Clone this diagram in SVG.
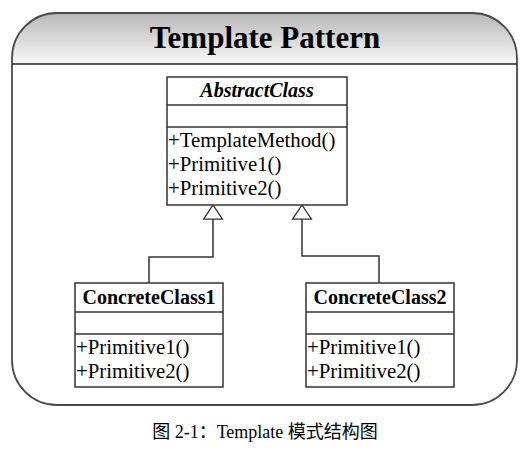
<svg xmlns="http://www.w3.org/2000/svg" width="532" height="452" viewBox="0 0 532 452">
<defs>
<linearGradient id="hdr" x1="0" y1="0" x2="0" y2="1">
<stop offset="0" stop-color="#b8b8b8"/>
<stop offset="1" stop-color="#f7f7f7"/>
</linearGradient>
<marker id="inh" markerUnits="userSpaceOnUse" markerWidth="16" markerHeight="22" viewBox="-1 -1 17 22" refX="15" refY="10" orient="auto">
<path d="M0,0 L15,10 L0,20 Z" fill="#fff" stroke="#333" stroke-width="1.4"/>
</marker>
<style>
.box{fill:#fff;stroke:#333;stroke-width:1.5}
.div{stroke:#333;stroke-width:1.5}
.nm{font-family:"Liberation Serif",serif;font-size:20px;font-weight:bold;fill:#000;text-anchor:middle}
.it{font-style:italic}
.op{font-family:"Liberation Serif",serif;font-size:20.8px;fill:#000}
.conn{fill:none;stroke:#333;stroke-width:1.5}
</style>
</defs>
<rect width="532" height="452" fill="#fff"/>
<g id="frame">
<path d="M12,64 V58 A45,45 0 0 1 57,13 H472 A45,45 0 0 1 517,58 V64 Z" fill="url(#hdr)"/>
<rect x="12" y="13" width="505" height="392" rx="45" ry="45" fill="none" stroke="#4a4a4a" stroke-width="1.8"/>
<line x1="12" y1="64" x2="517" y2="64" stroke="#222" stroke-width="1.5"/>
<text x="265" y="48" font-family="Liberation Serif, serif" font-size="31" font-weight="bold" text-anchor="middle" fill="#000">Template Pattern</text>
</g>
<g id="connectors">
<path class="conn" d="M149,283 V257 H213 V205" marker-end="url(#inh)"/>
<path class="conn" d="M379,283 V256 H302 V205" marker-end="url(#inh)"/>
</g>
<g id="AbstractClass">
<rect class="box" x="167" y="77" width="180" height="128"/>
<line class="div" x1="167" y1="105" x2="347" y2="105"/>
<line class="div" x1="167" y1="127" x2="347" y2="127"/>
<text class="nm it" x="257" y="97">AbstractClass</text>
<text class="op" x="168" y="147">+TemplateMethod()</text>
<text class="op" x="168" y="171">+Primitive1()</text>
<text class="op" x="168" y="195">+Primitive2()</text>
</g>
<g id="ConcreteClass1">
<rect class="box" x="75" y="283" width="148" height="104"/>
<line class="div" x1="75" y1="312" x2="223" y2="312"/>
<line class="div" x1="75" y1="334" x2="223" y2="334"/>
<text class="nm" x="149" y="304">ConcreteClass1</text>
<text class="op" x="76" y="354">+Primitive1()</text>
<text class="op" x="76" y="378">+Primitive2()</text>
</g>
<g id="ConcreteClass2">
<rect class="box" x="306" y="283" width="148" height="104"/>
<line class="div" x1="306" y1="312" x2="454" y2="312"/>
<line class="div" x1="306" y1="334" x2="454" y2="334"/>
<text class="nm" x="380" y="304">ConcreteClass2</text>
<text class="op" x="307" y="354">+Primitive1()</text>
<text class="op" x="307" y="378">+Primitive2()</text>
</g>
<text id="caption" x="265" y="438" font-family="Liberation Serif, 'Noto Sans CJK SC', serif" font-size="18" text-anchor="middle" fill="#000">图 2-1：Template 模式结构图</text>
</svg>
